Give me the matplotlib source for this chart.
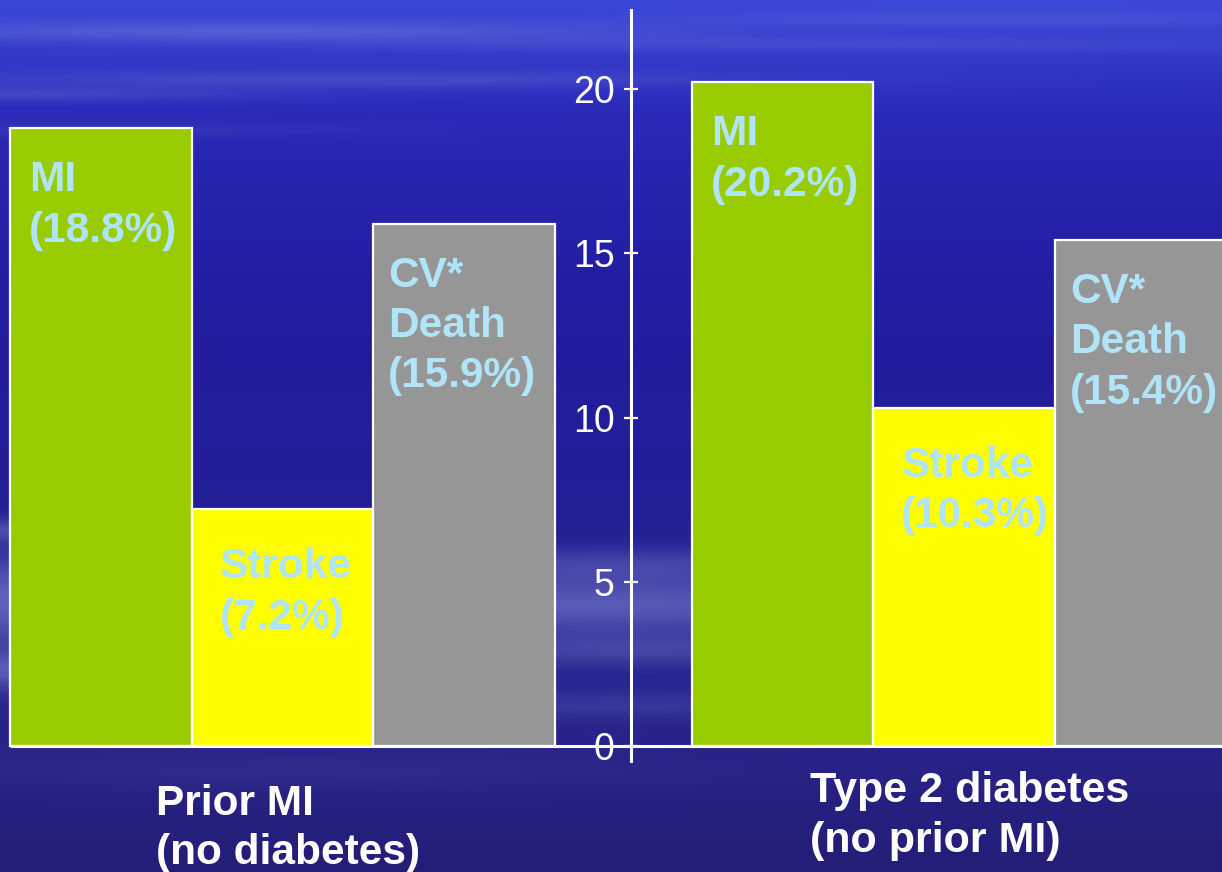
import numpy as np
import matplotlib
matplotlib.use('Agg')
import matplotlib.pyplot as plt

plt.rcParams['font.family'] = ['Liberation Sans', 'DejaVu Sans']

# event rates (%) per group
outcomes = ['MI', 'Stroke', 'CV*\nDeath']
prior_mi = [18.8, 7.2, 15.9]
diabetes = [20.2, 10.3, 15.4]
group_labels = ['Prior MI\n(no diabetes)', 'Type 2 diabetes\n(no prior MI)']
yticks = [0, 5, 10, 15, 20]

bar_colors = ['#99cc00', '#ffff00', '#969696']
label_color = '#b0e4f8'
label_dx = [19, 28, 15]   # pixel inset of the labels inside each bar
label_dy = [-32, -38, -32]

W, H = 1222, 872
fig = plt.figure(figsize=(W / 100, H / 100), dpi=100)

# --- blue sky backdrop with soft horizontal streaks ---
yy, xx = np.mgrid[0:H, 0:W].astype(float)
stops_y = [0, 120, 300, 480, 700, 872]
stops_c = np.array([[60, 72, 216], [42, 40, 182], [34, 28, 160],
                    [34, 30, 150], [40, 36, 142], [36, 30, 118]], float)
base = np.stack([np.interp(yy, stops_y, stops_c[:, k]) for k in range(3)], axis=-1)
light = np.array([150, 160, 225], float)
streaks = [  # y, sy, x, sx, amount
    (32, 10, 250, 380, 0.30), (45, 8, 800, 450, 0.15), (80, 9, 350, 420, 0.20),
    (95, 7, 0, 250, 0.20), (20, 8, 1000, 300, 0.15), (130, 8, 100, 300, 0.10),
    (565, 18, 620, 300, 0.25), (605, 28, 600, 300, 0.45), (600, 45, 0, 120, 0.50),
    (670, 20, 0, 120, 0.40), (650, 16, 640, 250, 0.25), (705, 14, 620, 200, 0.15),
    (530, 12, 0, 60, 0.30), (770, 20, 300, 400, 0.08),
]
amt = np.zeros((H, W))
for y0, sy, x0, sx, a in streaks:
    amt += a * np.exp(-((yy - y0) / sy) ** 2) * np.exp(-((xx - x0) / sx) ** 2)
amt = np.clip(amt, 0, 0.75)[..., None]
bg = (base * (1 - amt) + light * amt) / 255.0

bg_ax = fig.add_axes([0, 0, 1, 1])
bg_ax.imshow(bg, aspect='auto', interpolation='bilinear')
bg_ax.axis('off')

# --- bars ---
ax = fig.add_axes([0, 0, 1, 1], facecolor='none')
px_x = 181.5        # pixels per bar width
px_y = 32.85        # pixels per percentage point
ax.set_xlim(-101 / px_x, (W - 101) / px_x)
ax.set_ylim(-(H - 746) / px_y, 746 / px_y)

group_pos = [0.0, 3.755]
width = 1.0
for g, vals in zip(group_pos, [prior_mi, diabetes]):
    xs = g + np.arange(len(vals)) * width
    ax.bar(xs, vals, width=width, color=bar_colors, edgecolor='white',
           linewidth=1.6, zorder=3)
    for x, v, name, dx, dy in zip(xs, vals, outcomes, label_dx, label_dy):
        ax.annotate(f'{name}\n({v}%)', xy=(x - width / 2, v),
                    xytext=(dx, dy), textcoords='offset pixels',
                    ha='left', va='top', fontsize=30.5, fontweight='bold',
                    color=label_color, linespacing=1.33, zorder=4)

# baseline
ax.plot([-0.5, (W - 101) / px_x], [0, 0], color='white', lw=2.2,
        zorder=5, solid_capstyle='butt')

# y axis in the middle
axis_x = (631 - 101) / px_x
for s in ['top', 'right', 'bottom']:
    ax.spines[s].set_visible(False)
ax.spines['left'].set_position(('data', axis_x))
ax.spines['left'].set_bounds(-0.45, 22.4)
ax.spines['left'].set_color('white')
ax.spines['left'].set_linewidth(2.2)
ax.spines['left'].set_zorder(5)
ax.set_yticks(yticks)
ax.tick_params(axis='y', direction='inout', length=9.5, width=1.6,
               colors='white', labelsize=27, pad=7)
ax.set_xticks([])

# group captions
ax.text(0.303, -1.15, group_labels[0], ha='left', va='top', fontsize=30.5,
        fontweight='bold', color='white', linespacing=1.3)
ax.text(3.906, -0.75, group_labels[1], ha='left', va='top', fontsize=31,
        fontweight='bold', color='white', linespacing=1.35)

plt.savefig('out.png', dpi=100)
